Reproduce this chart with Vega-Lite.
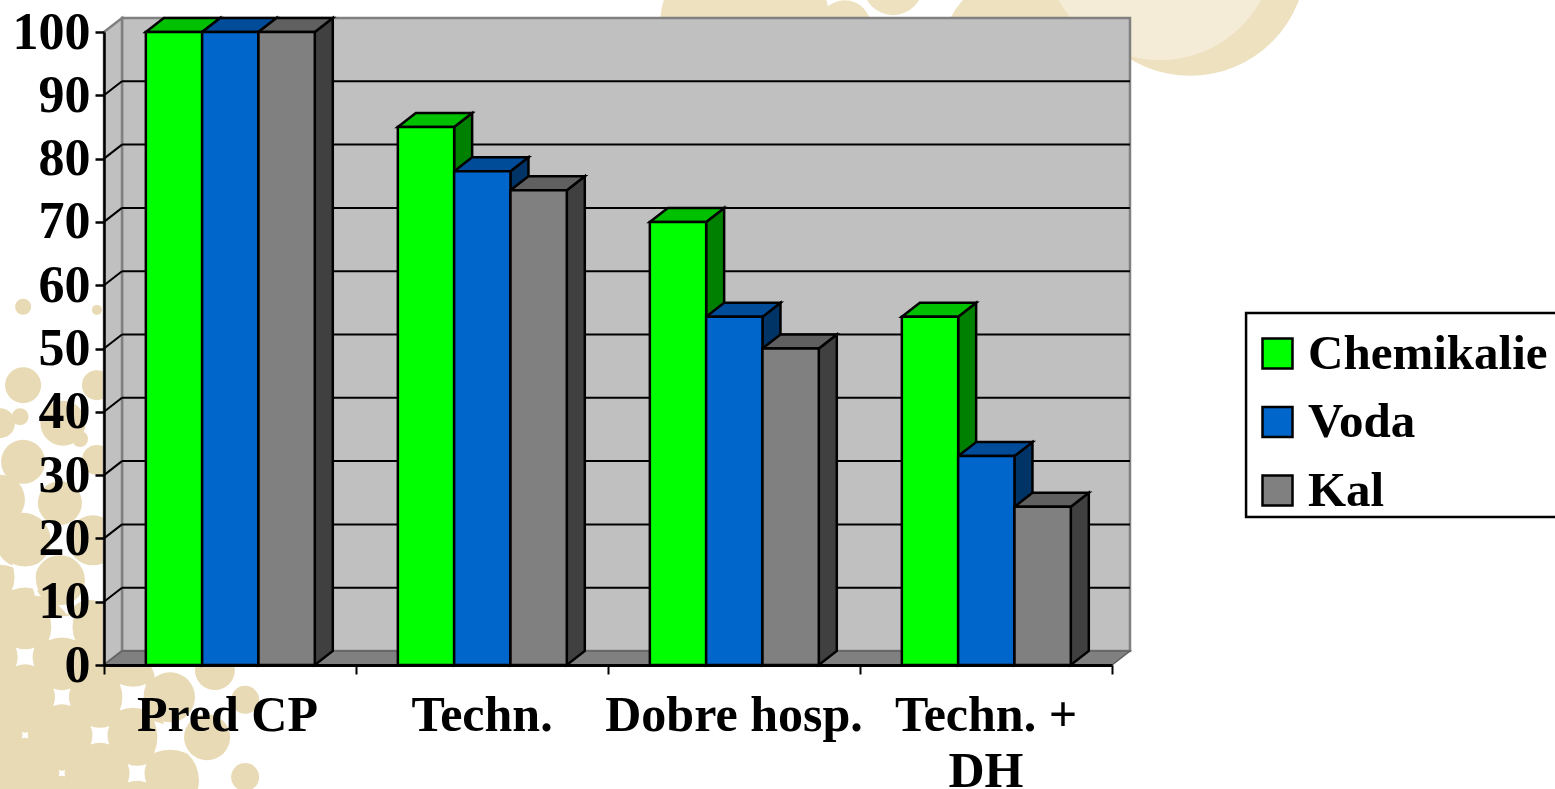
{
"$schema":"https://vega.github.io/schema/vega-lite/v6.json",
"width":1008,"height":633,
"padding":{"left":104,"top":32,"right":443,"bottom":124},
"autosize":{"type":"none"},
"background":"white",
"view":{"stroke":null},
"config":{"font":"Liberation Serif","axis":{"labelFont":"Liberation Serif"},"legend":{"labelFont":"Liberation Serif"}},
"resolve":{"axis":{"x":"independent","y":"independent"},"scale":{"fill":"independent"},"legend":{"fill":"independent"}},
"datasets":{
"bars":[
{"cat":"Pred CP","i":0,"series":"Chemikalie","s":0,"value":100},
{"cat":"Pred CP","i":0,"series":"Voda","s":1,"value":100},
{"cat":"Pred CP","i":0,"series":"Kal","s":2,"value":100},
{"cat":"Techn.","i":1,"series":"Chemikalie","s":0,"value":85},
{"cat":"Techn.","i":1,"series":"Voda","s":1,"value":78},
{"cat":"Techn.","i":1,"series":"Kal","s":2,"value":75},
{"cat":"Dobre hosp.","i":2,"series":"Chemikalie","s":0,"value":70},
{"cat":"Dobre hosp.","i":2,"series":"Voda","s":1,"value":55},
{"cat":"Dobre hosp.","i":2,"series":"Kal","s":2,"value":50},
{"cat":"Techn. +\nDH","i":3,"series":"Chemikalie","s":0,"value":55},
{"cat":"Techn. +\nDH","i":3,"series":"Voda","s":1,"value":33},
{"cat":"Techn. +\nDH","i":3,"series":"Kal","s":2,"value":25}
],
"decor":[
{"x":-0.321,"y":56.6,"a":256},{"x":-0.028,"y":56.1,"a":100},{"x":-0.321,"y":44.2,"a":1296},{"x":-0.028,"y":44.2,"a":900},
{"x":-0.333,"y":39.2,"a":289},{"x":-0.413,"y":38.2,"a":900},{"x":-0.163,"y":38.2,"a":2025},{"x":-0.095,"y":35.7,"a":256},
{"x":-0.321,"y":32.1,"a":1936},{"x":-0.028,"y":32.4,"a":900},{"x":-0.413,"y":26.1,"a":2500},{"x":-0.175,"y":25.6,"a":1936},
{"x":-0.321,"y":19.7,"a":3025},{"x":-0.044,"y":19.7,"a":2500},{"x":-0.175,"y":13.4,"a":2500},{"x":-0.413,"y":10.3,"a":4900},
{"x":-0.294,"y":3.9,"a":8100},{"x":-0.056,"y":6.3,"a":2500},{"x":-0.413,"y":-2.4,"a":14400},{"x":-0.175,"y":-5.5,"a":12100},
{"x":-0.333,"y":-15,"a":16900},{"x":0.024,"y":-13.4,"a":14400},{"x":0.262,"y":-5.1,"a":2500},{"x":0.409,"y":-11.4,"a":2116},
{"x":0.56,"y":-5.5,"a":784},{"x":0.56,"y":-17.7,"a":784},{"x":0.234,"y":-18.2,"a":5184},{"x":0.103,"y":-2.4,"a":2500},{"x":0.44,"y":-0.8,"a":1600},
{"x":-0.2,"y":-15,"a":22500},{"x":-0.38,"y":-8,"a":22500},{"x":-0.1,"y":-2,"a":6400}
],
"top":[
{"x":2.544,"y":101.1,"a":28900},{"x":2.94,"y":100.9,"a":2704},{"x":3.131,"y":107.4,"a":3600},{"x":3.675,"y":95.6,"a":32400},{"x":4.31,"y":111.4,"a":53824}
],
"glow":[{"x":4.19,"y":113.7,"a":52900}],
"stars":[
{"x":-0.313,"y":1.3,"a":350},{"x":-0.167,"y":-5.1,"a":300},{"x":-0.016,"y":-11.1,"a":350},{"x":-0.167,"y":6.0,"a":700},{"x":-0.313,"y":13.9,"a":700},
{"x":0.131,"y":-17.1,"a":350},{"x":0.262,"y":-11.4,"a":1000},{"x":0.115,"y":-5.1,"a":700},{"x":-0.313,"y":-11.1,"a":40},{"x":-0.167,"y":-17.1,"a":40}
],
"ticks":[{"t":10},{"t":20},{"t":30},{"t":40},{"t":50},{"t":60},{"t":70},{"t":80},{"t":90}],
"cats":[{"label":"Pred CP","c":0.49},{"label":"Techn.","c":1.5},{"label":"Dobre hosp.","c":2.5},{"label":"Techn. +\nDH","c":3.5}]
},
"layer":[
{"data":{"name":"decor"},"mark":{"type":"point","shape":"circle","filled":true,"color":"#E8DAB4","opacity":1,"clip":false},
 "encoding":{"x":{"field":"x","type":"quantitative","axis":null},"y":{"field":"y","type":"quantitative","axis":null},"size":{"field":"a","type":"quantitative","scale":null,"legend":null}}},
{"data":{"name":"top"},"mark":{"type":"point","shape":"circle","filled":true,"color":"#EDE1BF","opacity":1,"clip":false},
 "encoding":{"x":{"field":"x","type":"quantitative","axis":null},"y":{"field":"y","type":"quantitative","axis":null},"size":{"field":"a","type":"quantitative","scale":null,"legend":null}}},
{"data":{"name":"glow"},"mark":{"type":"point","shape":"circle","filled":true,"color":"#F4ECD6","opacity":1,"clip":false},
 "encoding":{"x":{"field":"x","type":"quantitative","axis":null},"y":{"field":"y","type":"quantitative","axis":null},"size":{"field":"a","type":"quantitative","scale":null,"legend":null}}},
{"data":{"name":"stars"},"mark":{"type":"point","shape":"M-1,-1Q0,-0.6 1,-1Q0.6,0 1,1Q0,0.6 -1,1Q-0.6,0 -1,-1Z","filled":true,"color":"white","opacity":1},
 "encoding":{"x":{"field":"x","type":"quantitative","axis":null},"y":{"field":"y","type":"quantitative","axis":null},"size":{"field":"a","type":"quantitative","scale":null,"legend":null}}},
{"data":{"values":[{"x":0.0714,"x2":4.0714,"y":2.21,"y2":102.21}]},"mark":{"type":"rect","fill":"#C0C0C0","stroke":"#808080","strokeWidth":2.5},
 "encoding":{"x":{"field":"x","type":"quantitative","axis":null},"x2":{"field":"x2"},"y":{"field":"y","type":"quantitative","axis":null},"y2":{"field":"y2"}}},
{"data":{"values":[{"x":0,"lo":0,"hi":100},{"x":0.0714,"lo":2.21,"hi":102.21}]},"mark":{"type":"area","fill":"#C0C0C0","stroke":"#808080","strokeWidth":2.5,"opacity":1},
 "encoding":{"x":{"field":"x","type":"quantitative","axis":null},"y":{"field":"hi","type":"quantitative","axis":null},"y2":{"field":"lo"}}},
{"data":{"values":[{"y":0,"a":0,"b":4},{"y":2.21,"a":0.0714,"b":4.0714}]},"mark":{"type":"area","orient":"horizontal","fill":"#808080","stroke":"#606060","strokeWidth":1.5,"opacity":1},
 "encoding":{"y":{"field":"y","type":"quantitative","axis":null},"x":{"field":"a","type":"quantitative","axis":null},"x2":{"field":"b"}}},
{"data":{"name":"ticks"},"transform":[{"calculate":"datum.t+2.21","as":"w"}],"mark":{"type":"rule","color":"black","strokeWidth":2},
 "encoding":{"x":{"datum":0.0714,"type":"quantitative","axis":null},"x2":{"datum":4.0714},"y":{"field":"w","type":"quantitative","axis":null}}},
{"data":{"name":"ticks"},"transform":[{"calculate":"datum.t+2.21","as":"w"}],"mark":{"type":"rule","color":"black","strokeWidth":2},
 "encoding":{"x":{"datum":0,"type":"quantitative","axis":null},"x2":{"datum":0.0714},"y":{"field":"t","type":"quantitative","axis":null},"y2":{"field":"w"}}},
{"data":{"name":"bars"},"mark":{"type":"point","opacity":0},
 "encoding":{
 "x":{"field":"i","type":"quantitative","scale":{"domain":[0,4],"nice":false,"zero":false},
  "axis":{"title":null,"values":[0,1,2,3,4],"labels":false,"grid":false,"domainColor":"black","domainWidth":3,"tickColor":"black","tickWidth":2,"tickSize":9,"zindex":1}},
 "y":{"field":"value","type":"quantitative","scale":{"domain":[0,100],"nice":false,"zero":false},
  "axis":{"title":null,"values":[0,10,20,30,40,50,60,70,80,90,100],"grid":false,"domainColor":"black","domainWidth":2.5,"tickColor":"black","tickWidth":2.5,"tickSize":9,"labelFont":"Liberation Serif","labelFontWeight":"bold","labelFontSize":52,"labelColor":"black","labelPadding":5,"zindex":1}}}},
{"data":{"name":"bars"},
 "transform":[
  {"calculate":"datum.i+0.166+0.2235*(datum.s+1)","as":"xr"},
  {"calculate":"{'Chemikalie':'#008000','Voda':'#003366','Kal':'#404040'}[datum.series]","as":"side"},
  {"calculate":"datum.xr","as":"p0"},{"calculate":"datum.xr+0.0714","as":"p1"},
  {"fold":["p0","p1"],"as":["pk","px"]},
  {"calculate":"datum.pk==='p1'?2.21:0","as":"dy"},
  {"calculate":"datum.value+datum.dy","as":"hi"},
  {"calculate":"datum.cat+datum.series","as":"id"}],
 "mark":{"type":"area","stroke":"black","strokeWidth":2.5,"opacity":1},
 "encoding":{"x":{"field":"px","type":"quantitative","axis":null},"y":{"field":"hi","type":"quantitative","axis":null},"y2":{"field":"dy"},"detail":{"field":"id"},"fill":{"field":"side","type":"nominal","scale":null,"legend":null}}},
{"data":{"name":"bars"},
 "transform":[
  {"calculate":"datum.i+0.166+0.2235*datum.s","as":"xl"},
  {"calculate":"{'Chemikalie':'#00C000','Voda':'#004C99','Kal':'#606060'}[datum.series]","as":"top"},
  {"calculate":"datum.value","as":"p0"},{"calculate":"datum.value+2.21","as":"p1"},
  {"fold":["p0","p1"],"as":["pk","py"]},
  {"calculate":"datum.xl+(datum.pk==='p1'?0.0714:0)","as":"a"},
  {"calculate":"datum.a+0.2235","as":"b"},
  {"calculate":"datum.cat+datum.series","as":"id"}],
 "mark":{"type":"area","orient":"horizontal","stroke":"black","strokeWidth":2.5,"opacity":1},
 "encoding":{"y":{"field":"py","type":"quantitative","axis":null},"x":{"field":"a","type":"quantitative","axis":null},"x2":{"field":"b"},"detail":{"field":"id"},"fill":{"field":"top","type":"nominal","scale":null,"legend":null}}},
{"data":{"values":[{"x":4.532,"x2":5.8,"y":55.6,"y2":23.4}]},"mark":{"type":"rect","fill":"white","stroke":"black","strokeWidth":2.5,"clip":false},
 "encoding":{"x":{"field":"x","type":"quantitative","axis":null},"x2":{"field":"x2"},"y":{"field":"y","type":"quantitative","axis":null},"y2":{"field":"y2"}}},
{"data":{"name":"bars"},
 "transform":[{"calculate":"datum.i+0.166+0.2235*datum.s","as":"xl"},{"calculate":"datum.xl+0.2235","as":"xe"}],
 "mark":{"type":"rect","stroke":"black","strokeWidth":2.5},
 "encoding":{"x":{"field":"xl","type":"quantitative","axis":null},"x2":{"field":"xe"},"y":{"field":"value","type":"quantitative","axis":null},"y2":{"datum":0},
 "fill":{"field":"series","type":"nominal","scale":{"domain":["Chemikalie","Voda","Kal"],"range":["#00FF00","#0066CC","#808080"]},
  "legend":{"orient":"none","legendX":1149,"legendY":297,"title":null,"padding":0,"symbolType":"square","symbolSize":900,"symbolStrokeColor":"black","symbolStrokeWidth":2.5,"labelFontSize":49,"labelFontWeight":"bold","labelColor":"black","labelFont":"Liberation Serif","labelOffset":6,"rowPadding":18.5,"labelLimit":400}}}},
{"data":{"name":"cats"},"mark":{"type":"text","fontSize":50,"fontWeight":"bold","font":"Liberation Serif","color":"black","align":"center","baseline":"top","lineBreak":"\n","lineHeight":56,"yOffset":26},
 "encoding":{"x":{"field":"c","type":"quantitative","axis":null},"y":{"datum":0,"type":"quantitative","axis":null},"text":{"field":"label"}}}
]
}
